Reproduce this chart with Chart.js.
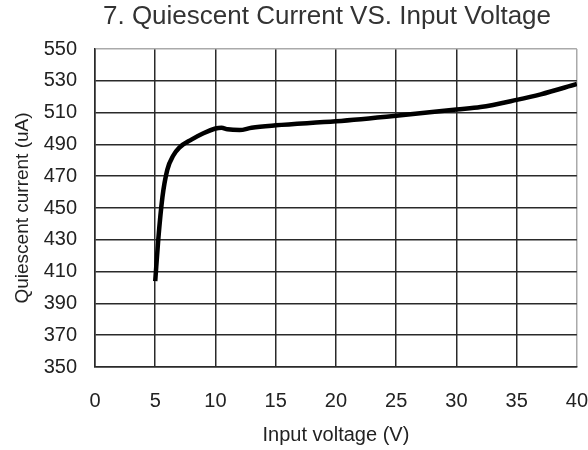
<!DOCTYPE html>
<html>
<head>
<meta charset="utf-8">
<script src="https://cdn.jsdelivr.net/npm/chart.js@4.4.0/dist/chart.umd.min.js"></script>
<style>
  html, body { margin: 0; padding: 0; background: #fff; }
  #wrap { width: 588px; height: 450px; }
</style>
</head>
<body>
<div id="wrap"><canvas id="chart"></canvas></div>
<script>
// Data
const chartTitle = '7. Quiescent Current VS. Input Voltage';
const voltage = [5, 5.25, 5.6, 6, 6.5, 7, 8, 9, 10, 10.5, 11, 12, 13, 15, 20, 25, 30, 32, 35, 37, 40];
const current = [404, 430, 457, 474, 483, 488, 493, 497, 500, 500.5, 499.5, 499, 500.5, 502, 504.5, 508, 512, 513.5, 518, 521.5, 528];

const font = "'Liberation Sans', Arial, sans-serif";

// Title drawn by hand so it can sit off-centre like the original
const titlePlugin = {
    id: 'topTitle',
    afterDraw(chart) {
        const ctx = chart.ctx;
        ctx.save();
        ctx.font = '26px ' + font;
        ctx.fillStyle = '#333';
        ctx.textAlign = 'center';
        ctx.textBaseline = 'alphabetic';
        ctx.fillText(chartTitle, 327, 24);
        ctx.restore();
    }
};

const points = voltage.map((v, i) => ({ x: v, y: current[i] }));

new Chart(document.getElementById('chart').getContext('2d'), {
    type: 'line',
    data: {
        datasets: [{
            data: points,
            borderColor: '#000',
            borderWidth: 4.5,
            pointRadius: 0,
            cubicInterpolationMode: 'monotone',
            fill: false
        }]
    },
    options: {
        responsive: true,
        maintainAspectRatio: false,
        animation: false,
        layout: {
            padding: { top: 49, right: 10, left: 0, bottom: 0 }
        },
        plugins: {
            legend: { display: false },
            tooltip: { enabled: false }
        },
        scales: {
            x: {
                type: 'linear',
                min: 0,
                max: 40,
                ticks: {
                    stepSize: 5,
                    padding: 0,
                    maxRotation: 0,
                    color: '#222',
                    font: { family: font, size: 20 }
                },
                grid: {
                    tickLength: 22,
                    tickColor: 'transparent',
                    lineWidth: 1.5,
                    color: (c) => c.tick && c.tick.value === 40 ? '#aaa' : '#2a2a2a'
                },
                border: { color: '#2a2a2a', width: 1.5 },
                title: {
                    display: true,
                    text: 'Input voltage (V)',
                    color: '#222',
                    font: { family: font, size: 20 },
                    padding: { top: 0, bottom: 3 }
                },
                afterFit(scale) { scale.height = 83; }
            },
            y: {
                min: 350,
                max: 550,
                ticks: {
                    stepSize: 20,
                    padding: 0,
                    color: '#222',
                    font: { family: font, size: 20 }
                },
                grid: {
                    tickLength: 18,
                    tickColor: 'transparent',
                    lineWidth: 1.5,
                    color: (c) => c.tick && c.tick.value === 550 ? '#aaa' : '#2a2a2a'
                },
                border: { color: '#2a2a2a', width: 1.5 },
                title: {
                    display: true,
                    text: 'Quiescent current (uA)',
                    color: '#222',
                    font: { family: font, size: 19 },
                    padding: { top: 11, bottom: 0 }
                },
                afterFit(scale) { scale.width = 95; }
            }
        }
    },
    plugins: [titlePlugin]
});
</script>
</body>
</html>
